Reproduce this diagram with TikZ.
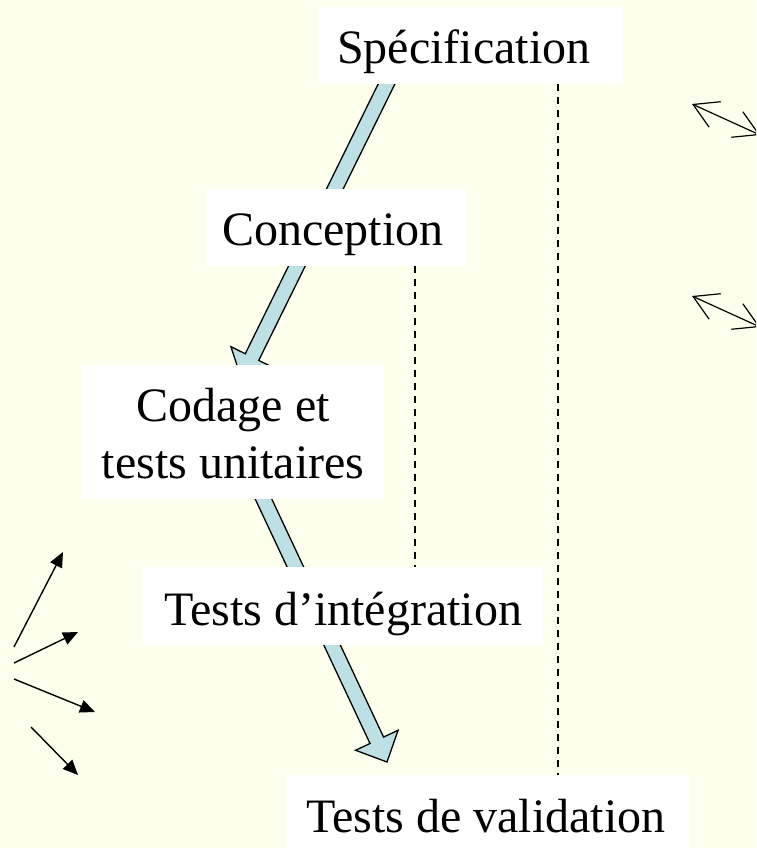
\documentclass[tikz,border=0pt]{standalone}
\usepackage{fontspec}
\setmainfont{Liberation Serif}
\usetikzlibrary{calc,arrows.meta}
\definecolor{bgyellow}{RGB}{251,255,236}
\definecolor{arrowblue}{RGB}{188,224,228}
\tikzset{
  wbox/.style={rectangle, fill=white, draw=none, inner sep=0pt},
  lbl/.style={inner sep=0pt, anchor=base west, font=\fontsize{48}{57.6}\selectfont},
  lblc/.style={inner sep=0pt, anchor=base, font=\fontsize{48}{57.6}\selectfont},
  dashline/.style={line width=1.2pt, dash pattern=on 7pt off 6pt},
  barrow/.style={fill=arrowblue, draw=black, line width=1.3pt, line join=miter},
  leftarrow/.style={line width=1.4pt, -{Triangle[length=15pt,width=13pt]}},
  dblarrow/.style={line width=1.2pt, {Straight Barb[length=24pt,width=28pt]}-{Straight Barb[length=24pt,width=28pt]}}
}
\newcommand\blockarrow[2]{%
  \path (#2) coordinate (ba-t) ($(#2)!24pt!(#1)$) coordinate (ba-h);
  \filldraw[barrow] ($(#1)!7.5pt!90:(#2)$) -- ($(ba-h)!7.5pt!90:(ba-t)$)
    -- ($(ba-h)!23.5pt!90:(ba-t)$) -- (ba-t) -- ($(ba-h)!23.5pt!-90:(ba-t)$)
    -- ($(ba-h)!7.5pt!-90:(ba-t)$) -- ($(#1)!7.5pt!-90:(#2)$) -- cycle;
}
\begin{document}
\begin{tikzpicture}[x=1pt,y=-1pt]
\useasboundingbox (0,0) rectangle (756,848);
\clip (0,0) rectangle (756,848);
\fill[bgyellow] (0,0) rectangle (756,848);

% white boxes
\node[wbox, minimum width=304pt, minimum height=77pt] (spec) at (471,45.5) {};
\node[wbox, minimum width=260pt, minimum height=77pt] (conc) at (337,227.5) {};
\node[wbox, minimum width=302pt, minimum height=134pt] (code) at (233,432) {};
\node[wbox, minimum width=400pt, minimum height=78pt] (integ) at (343,606) {};
\node[wbox, minimum width=402pt, minimum height=73pt] (valid) at (488,811.5) {};

% dashed lines
\coordinate (longx) at (558,0);
\coordinate (shortx) at (415,0);
\draw[dashline] (spec.south -| longx) -- (valid.north -| longx);
\draw[dashline] (conc.south -| shortx) -- (integ.north -| shortx);

% block arrows
\coordinate (a1s) at (388.5,80);
\coordinate (a1e) at (241.4,378.6);
\coordinate (a2s) at (261.6,495);
\coordinate (a2e) at (387,762);
\blockarrow{a1s}{a1e}
\blockarrow{a2s}{a2e}

% boxes drawn again on top of arrows
\node[wbox, minimum width=304pt, minimum height=77pt] at (spec) {};
\node[wbox, minimum width=260pt, minimum height=77pt] at (conc) {};
\node[wbox, minimum width=302pt, minimum height=134pt] at (code) {};
\node[wbox, minimum width=400pt, minimum height=78pt] at (integ) {};
\node[wbox, minimum width=402pt, minimum height=73pt] at (valid) {};

% texts
\node[lbl] (spect) at (337,64) {Spécification};
\node[lbl] (conct) at (222,245) {Conception};
\node[lblc] (codet1) at (233,421) {Codage et};
\node[lblc] (codet2) at (233,478) {tests unitaires};
\node[lbl] (integt) at (164,625) {Tests d’intégration};
\node[lbl] (validt) at (306,832) {Tests de validation};

% right double arrows
\coordinate (r1a) at (692,104);
\coordinate (r1b) at (760,135);
\coordinate (r2a) at (692,296);
\coordinate (r2b) at (760,327);
\draw[dblarrow] (r1a) -- (r1b);
\draw[dblarrow] (r2a) -- (r2b);

% left arrows
\coordinate (l1a) at (14,647);
\coordinate (l1b) at (63,552);
\coordinate (l2a) at (14,663);
\coordinate (l2b) at (78,632);
\coordinate (l3a) at (14,679);
\coordinate (l3b) at (95,712);
\coordinate (l4a) at (31,727);
\coordinate (l4b) at (78,775);
\draw[leftarrow] (l1a) -- (l1b);
\draw[leftarrow] (l2a) -- (l2b);
\draw[leftarrow] (l3a) -- (l3b);
\draw[leftarrow] (l4a) -- (l4b);
\end{tikzpicture}
\end{document}
